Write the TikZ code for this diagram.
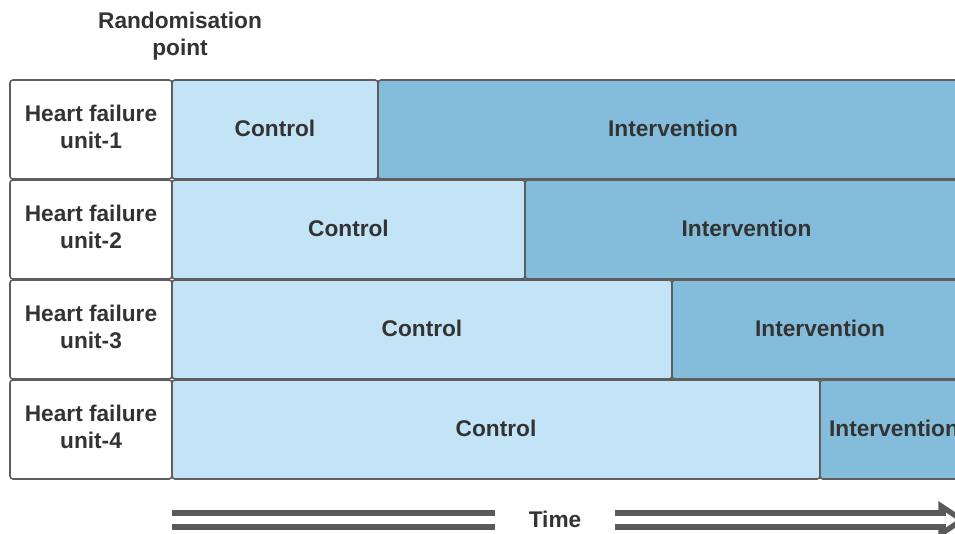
\documentclass[tikz,border=0pt]{standalone}
\usepackage{fontspec}
\setmainfont{Liberation Sans}
\definecolor{ink}{HTML}{333333}
\definecolor{edge}{HTML}{5E5E5E}
\definecolor{ctrl}{HTML}{C3E4F6}
\definecolor{intv}{HTML}{84BCDC}
\definecolor{timeline}{HTML}{5A5A5A}
\tikzset{
  cell/.style={draw=edge, line width=1.2pt, rounded corners=2.25pt},
  unitbox/.style={cell, fill=white},
  ctrlbox/.style={cell, fill=ctrl},
  intvbox/.style={cell, fill=intv},
  lbl/.style={text=ink, font=\bfseries\fontsize{17}{20.5}\selectfont, align=center},
  timebar/.style={draw=timeline, line width=4.5pt, double=white, double distance=6pt},
  timehead/.style={draw=timeline, line width=4pt, fill=white, line join=miter}
}
\begin{document}
\begin{tikzpicture}[x=0.75pt,y=-0.75pt]
\clip (0,0) rectangle (955,533);
\fill[white] (0,0) rectangle (955,533);

\node[lbl] (rand) at (180,36) {Randomisation\\point};

% rows: unit label, control period, intervention period
\foreach \i/\sw in {1/378,2/525,3/672,4/820}{
  \pgfmathsetmacro{\top}{80+100*(\i-1)}
  \pgfmathsetmacro{\bot}{\top+99}
  \draw[unitbox] (10,\top) rectangle (172,\bot);
  \draw[ctrlbox] (172,\top) rectangle (\sw,\bot);
  \draw[intvbox] (\sw,\top) rectangle (968,\bot);
  \node[lbl] (unit\i) at (91,\top+47) {Heart failure\\unit-\i};
  \node[lbl] (ctrl\i) at ({(172+\sw)/2},\top+48) {Control};
  \node[lbl] (intv\i) at ({(\sw+968)/2},\top+48) {Intervention};
}

% time axis
\node[lbl] (time) at (555,519) {Time};
\coordinate (tA) at (172,520);
\coordinate (tB) at (495,520);
\coordinate (tC) at (615,520);
\coordinate (tD) at (946,520);
\draw[timehead] (941,506) -- (962,520) -- (941,534) -- cycle;
\draw[timebar] (tA) -- (tB);
\draw[timebar] (tC) -- (tD);
\end{tikzpicture}
\end{document}
